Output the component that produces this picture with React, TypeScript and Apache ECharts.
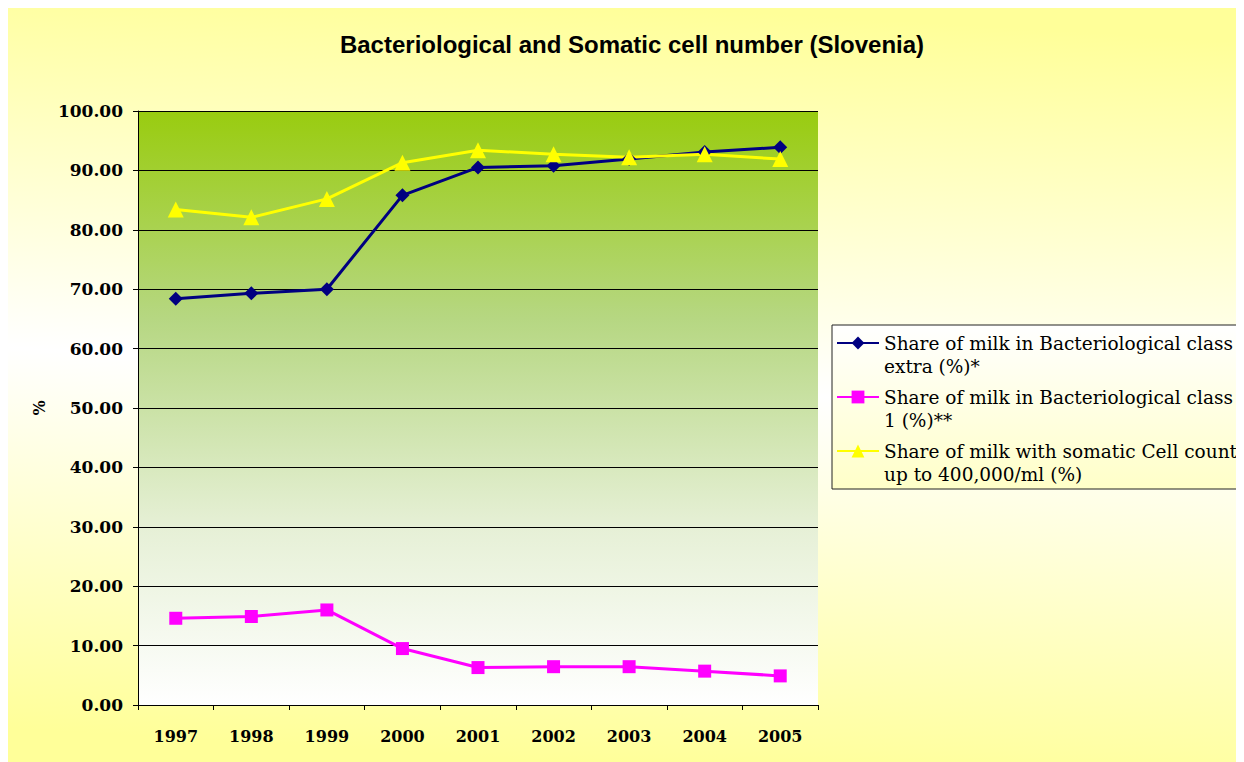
import React, { useEffect, useRef } from "react";
import * as echarts from "echarts";

const years = ["1997", "1998", "1999", "2000", "2001", "2002", "2003", "2004", "2005"];
const classExtra = [68.4, 69.3, 70.0, 85.8, 90.5, 90.8, 91.9, 93.1, 93.9];
const class1 = [14.6, 14.9, 16.0, 9.5, 6.3, 6.45, 6.45, 5.7, 4.9];
const somatic = [83.4, 82.1, 85.2, 91.3, 93.4, 92.7, 92.2, 92.7, 91.9];

const seriesNames = ["extra", "class1", "somatic"];
const legendLabels: Record<string, string> = {
  extra: "\nShare of milk in Bacteriological class\nextra (%)*",
  class1: "\nShare of milk in Bacteriological class\n1 (%)**",
  somatic: "\nShare of milk with somatic Cell count\nup to 400,000/ml (%)",
};

export default function App() {
  const ref = useRef<HTMLDivElement>(null);
  useEffect(() => {
    if (!ref.current) return;
    const chart = echarts.init(ref.current, undefined, { renderer: "svg" });
    const serif = "DejaVu Serif";
    chart.setOption({
      animation: false,
      backgroundColor: new echarts.graphic.LinearGradient(0.55, 0, 0.45, 1, [
        { offset: 0, color: "#ffff99" },
        { offset: 0.5, color: "#ffffff" },
        { offset: 1, color: "#ffff99" },
      ]),
      title: {
        text: "Bacteriological and Somatic cell number (Slovenia)",
        left: 619,
        textAlign: "center",
        top: 19,
        textStyle: {
          fontFamily: "Liberation Sans",
          fontWeight: "bold",
          fontSize: 24,
          color: "#000",
        },
      },
      graphic: [
        {
          type: "rect",
          z: 1,
          shape: { x: 824, y: 317, width: 440, height: 164 },
          style: {
            fill: new echarts.graphic.LinearGradient(0, 0, 0, 1, [
              { offset: 0, color: "#ffffff" },
              { offset: 1, color: "#ffffc8" },
            ]),
            stroke: "#222",
            lineWidth: 1,
          },
        },
      ],
      legend: {
        orient: "vertical",
        left: 828,
        top: 300.5,
        padding: 0,
        itemWidth: 42,
        itemHeight: 16,
        itemGap: -15,
        z: 5,
        data: seriesNames,
        formatter: (n: string) => legendLabels[n],
        textStyle: {
          fontFamily: serif,
          fontSize: 18.5,
          lineHeight: 23,
          color: "#000",
        },
      },
      grid: {
        left: 130,
        top: 103,
        right: 426,
        bottom: 57,
        show: true,
        borderWidth: 0,
        backgroundColor: new echarts.graphic.LinearGradient(0, 0, 0, 1, [
          { offset: 0, color: "#99cc0f" },
          { offset: 0.35, color: "#b6d782" },
          { offset: 0.7, color: "#e6f0d6" },
          { offset: 1, color: "#ffffff" },
        ]),
      },
      xAxis: {
        type: "category",
        data: years,
        boundaryGap: true,
        axisLine: { lineStyle: { color: "#000", width: 1 } },
        axisTick: { show: true, length: 5, lineStyle: { color: "#000" } },
        axisLabel: {
          margin: 23,
          fontFamily: serif,
          fontWeight: "bold",
          fontSize: 16,
          color: "#000",
        },
        splitLine: { show: false },
      },
      yAxis: {
        type: "value",
        min: 0,
        max: 100,
        interval: 10,
        name: "%",
        nameLocation: "middle",
        nameGap: 90,
        nameRotate: 90,
        nameTextStyle: {
          fontFamily: serif,
          fontWeight: "bold",
          fontSize: 16,
          color: "#000",
        },
        axisLine: { show: true, lineStyle: { color: "#000", width: 1 } },
        axisTick: { show: true, length: 5, lineStyle: { color: "#000" } },
        axisLabel: {
          margin: 15,
          formatter: (v: number) => v.toFixed(2),
          fontFamily: serif,
          fontWeight: "bold",
          fontSize: 17,
          color: "#000",
        },
        splitLine: { show: true, lineStyle: { color: "#000", width: 1 } },
      },
      series: [
        {
          name: "extra",
          type: "line",
          data: classExtra,
          symbol: "diamond",
          symbolSize: 14,
          lineStyle: { color: "#000080", width: 3 },
          itemStyle: { color: "#000080" },
        },
        {
          name: "class1",
          type: "line",
          data: class1,
          symbol: "rect",
          symbolSize: 13,
          lineStyle: { color: "#ff00ff", width: 3 },
          itemStyle: { color: "#ff00ff" },
        },
        {
          name: "somatic",
          type: "line",
          data: somatic,
          symbol: "triangle",
          symbolSize: 16,
          lineStyle: { color: "#ffff00", width: 3 },
          itemStyle: { color: "#ffff00" },
        },
      ],
    });
    return () => chart.dispose();
  }, []);
  return <div ref={ref} style={{ width: 1236, height: 754 }} />;
}
